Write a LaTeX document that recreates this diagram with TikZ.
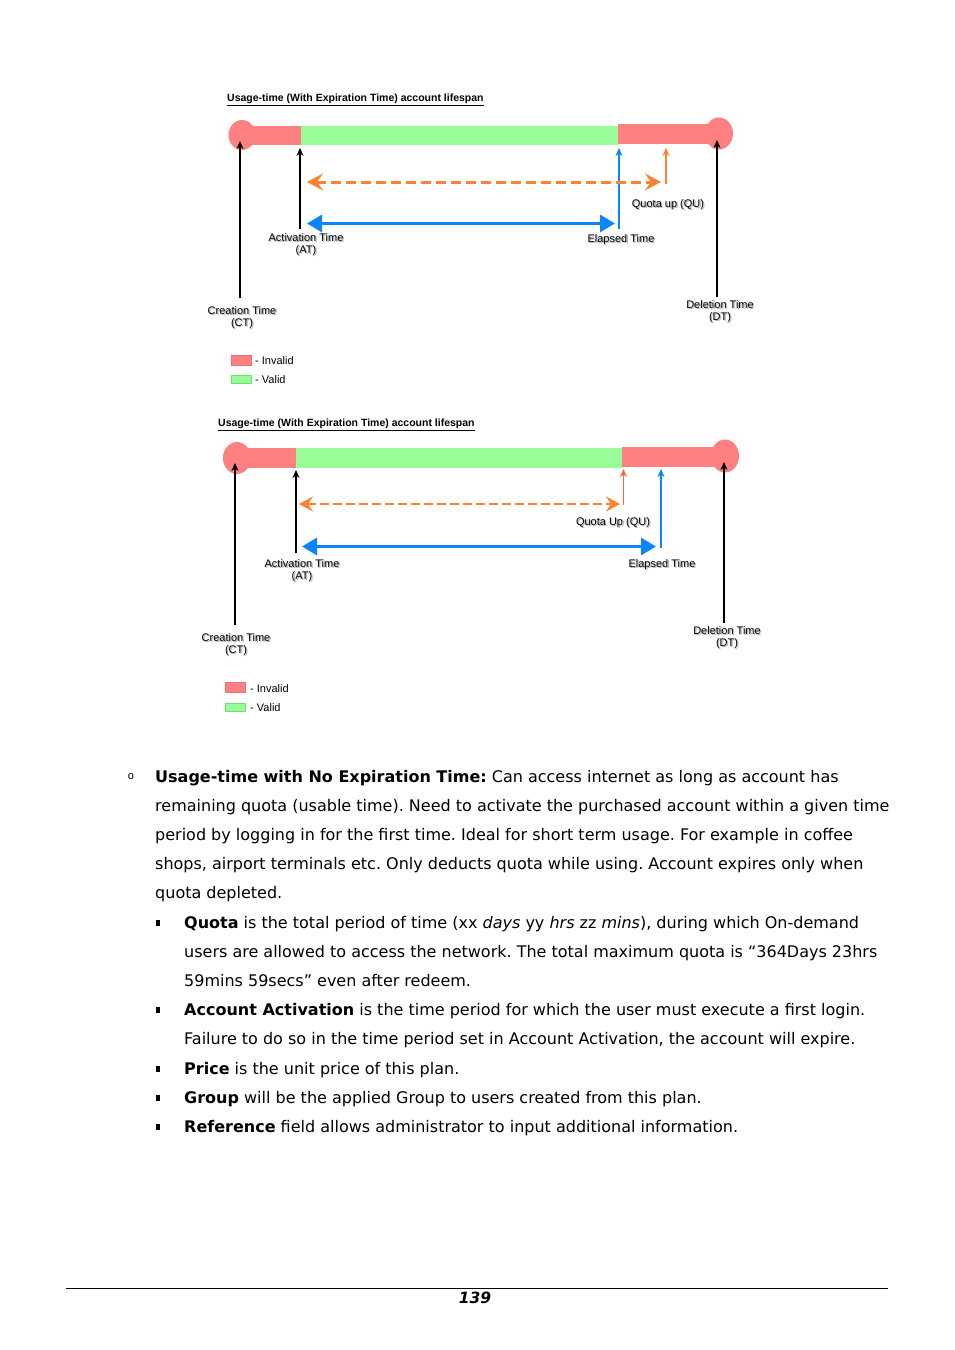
\documentclass[tikz,border=0pt]{standalone}
\usepackage{fontspec}
\setmainfont{DejaVu Sans}
\newfontfamily\arialf{Liberation Sans}
\usetikzlibrary{arrows.meta}
\frenchspacing
\definecolor{invred}{RGB}{255,128,128}
\definecolor{valgreen}{RGB}{152,252,152}
\definecolor{valborder}{RGB}{110,225,110}
\definecolor{qorange}{RGB}{255,130,50}
\definecolor{qorangeB}{RGB}{255,100,50}
\definecolor{eblue}{RGB}{10,132,255}
\newcommand\shd[1]{\rlap{\kern1.3pt\raisebox{-1.3pt}{\textcolor{black!30}{#1}}}#1}
\tikzset{
  lbl/.style={font=\arialf\fontsize{11}{12}\selectfont, align=center, inner sep=0pt},
  ttl/.style={font=\arialf\bfseries\fontsize{10.5}{12}\selectfont, inner sep=0pt, anchor=base west},
  legtxt/.style={font=\arialf\fontsize{11}{12}\selectfont, inner sep=0pt, anchor=west},
  blackarrow/.style={draw=black, line width=1.6pt, -{Stealth[length=8pt,width=7pt]}},
  bluearrow/.style={draw=eblue, line width=1.6pt, -{Stealth[length=8pt,width=7pt]}},
  orarrow/.style={draw=qorange, line width=1.4pt, -{Stealth[length=8pt,width=7pt]}},
  bluedbl/.style={draw=eblue, line width=3pt, {Triangle[length=15pt,width=17pt]}-{Triangle[length=15pt,width=17pt]}},
  ordbl/.style={draw=qorange, line width=3pt, dash pattern=on 10pt off 5pt, {Stealth[length=16pt,width=17pt,inset=6pt]}-{Stealth[length=16pt,width=17pt,inset=6pt]}},
  ordblB/.style={draw=qorange, line width=2.2pt, dash pattern=on 9pt off 4pt, {Stealth[length=14pt,width=15pt,inset=5pt]}-{Stealth[length=14pt,width=15pt,inset=5pt]}},
  body/.style={font=\fontsize{16}{18}\selectfont, anchor=base west, inner sep=0pt},
  sqbullet/.style={fill=black, minimum width=4.5pt, minimum height=5.5pt, inner sep=0pt},
  legred/.style={fill=invred, draw=invred!90!black, line width=0.4pt, minimum width=20pt, minimum height=10pt, inner sep=0pt},
  leggreen/.style={fill=valgreen, draw=valborder, line width=1pt, minimum width=20pt, minimum height=8pt, inner sep=0pt},
}
\begin{document}
\begin{tikzpicture}[x=1pt,y=-1pt]
\useasboundingbox (0,0) rectangle (954,1350);
\fill[white] (0,0) rectangle (954,1350);

% ================= Diagram 1 =================
\node[ttl] (t1) at (227,101.5) {\underline{Usage-time (With Expiration Time) account lifespan}};
% bar
\fill[invred] (242,126) rectangle (302,145);
\fill[valgreen] (301,125.5) rectangle (619,145);
\fill[invred] (618,124) rectangle (719,144);
\fill[invred] (242,135) ellipse [x radius=13.5, y radius=15];
\fill[invred] (719,133.5) ellipse [x radius=14, y radius=16];
% labels
\node[lbl] (ct1) at (242,318) {\shd{Creation Time}\\\shd{(CT)}};
\node[lbl] (at1) at (306,245) {\shd{Activation Time}\\\shd{(AT)}};
\node[lbl] (el1) at (621,240) {\shd{Elapsed Time}};
\node[lbl] (qu1) at (668,205) {\shd{Quota up (QU)}};
\node[lbl] (dt1) at (720,312) {\shd{Deletion Time}\\\shd{(DT)}};
% arrow coordinates
\coordinate (ct1a) at (240,298); \coordinate (ct1b) at (240,141);
\coordinate (at1a) at (300,229); \coordinate (at1b) at (300,148);
\coordinate (el1a) at (619,229); \coordinate (el1b) at (619,148);
\coordinate (qu1a) at (666,184); \coordinate (qu1b) at (666,148);
\coordinate (dt1a) at (717,297); \coordinate (dt1b) at (717,140);
\coordinate (o1l) at (307,182); \coordinate (o1r) at (661,182);
\coordinate (b1l) at (307,223.5); \coordinate (b1r) at (615,223.5);
\draw[blackarrow] (ct1a) -- (ct1b);
\draw[blackarrow] (at1a) -- (at1b);
\draw[bluearrow] (el1a) -- (el1b);
\draw[orarrow] (qu1a) -- (qu1b);
\draw[blackarrow] (dt1a) -- (dt1b);
\draw[ordbl] (o1l) -- (o1r);
\draw[bluedbl] (b1l) -- (b1r);
% legend
\node[legred] (lr1) at (241,360) {};
\node[legtxt] (lrt1) at (255,360.5) {- Invalid};
\node[leggreen] (lg1) at (241,379) {};
\node[legtxt] (lgt1) at (255,379.5) {- Valid};

% ================= Diagram 2 =================
\node[ttl] (t2) at (218,426.5) {\underline{Usage-time (With Expiration Time) account lifespan}};
\fill[invred] (237,448) rectangle (297,468);
\fill[valgreen] (296,447.5) rectangle (623,467.5);
\fill[invred] (622,447) rectangle (725,467);
\fill[invred] (237,458) ellipse [x radius=14, y radius=16];
\fill[invred] (725,456) ellipse [x radius=14, y radius=16.5];
\node[lbl] (ct2) at (236,645) {\shd{Creation Time}\\\shd{(CT)}};
\node[lbl] (at2) at (302,571) {\shd{Activation Time}\\\shd{(AT)}};
\node[lbl] (qu2) at (613,523) {\shd{Quota Up (QU)}};
\node[lbl] (el2) at (662,565) {\shd{Elapsed Time}};
\node[lbl] (dt2) at (727,638) {\shd{Deletion Time}\\\shd{(DT)}};
\coordinate (ct2a) at (235,625); \coordinate (ct2b) at (235,463);
\coordinate (at2a) at (296,553); \coordinate (at2b) at (296,470);
\coordinate (qu2a) at (623.5,505); \coordinate (qu2b) at (623.5,469);
\coordinate (el2a) at (661,548); \coordinate (el2b) at (661,469);
\coordinate (dt2a) at (724,623); \coordinate (dt2b) at (724,462);
\coordinate (o2l) at (299,504); \coordinate (o2r) at (620,504);
\coordinate (b2l) at (302,546.5); \coordinate (b2r) at (656,546.5);
\draw[blackarrow] (ct2a) -- (ct2b);
\draw[blackarrow] (at2a) -- (at2b);
\draw[orarrow, draw=qorangeB] (qu2a) -- (qu2b);
\draw[bluearrow] (el2a) -- (el2b);
\draw[blackarrow] (dt2a) -- (dt2b);
\draw[ordblB] (o2l) -- (o2r);
\draw[bluedbl] (b2l) -- (b2r);
\node[legred] (lr2) at (235.5,687.5) {};
\node[legtxt] (lrt2) at (250,688.5) {- Invalid};
\node[leggreen] (lg2) at (235.5,707) {};
\node[legtxt] (lgt2) at (250,707.5) {- Valid};

% ================= Body text =================
\node[font=\arialf\fontsize{11}{12}\selectfont, inner sep=0pt] (ob) at (131,777) {o};
\node[body] (l1) at (155,782) {\textbf{Usage-time with No Expiration Time:} Can access internet as long as account has};
\node[body] (l2) at (155,811.5) {remaining quota (usable time). Need to activate the purchased account within a given time};
\node[body] (l3) at (155,840.5) {period by logging in for the first time. Ideal for short term usage. For example in coffee};
\node[body] (l4) at (155,869.5) {shops, airport terminals etc. Only deducts quota while using. Account expires only when};
\node[body] (l5) at (155,898.5) {quota depleted.};

\node[sqbullet] (s1) at (158,923) {};
\node[body] (m1) at (184,928.5) {\textbf{Quota} is the total period of time (xx \textit{days} yy \textit{hrs} zz \textit{mins}), during which On-demand};
\node[body] (m2) at (184,957.5) {users are allowed to access the network. The total maximum quota is “364Days 23hrs};
\node[body] (m3) at (184,986.5) {59mins 59secs” even after redeem.};
\node[sqbullet] (s2) at (158,1010) {};
\node[body] (m4) at (184,1015.5) {\textbf{Account Activation} is the time period for which the user must execute a first login.};
\node[body] (m5) at (184,1044.5) {Failure to do so in the time period set in Account Activation, the account will expire.};
\node[sqbullet] (s3) at (158,1069) {};
\node[body] (m6) at (184,1074.5) {\textbf{Price} is the unit price of this plan.};
\node[sqbullet] (s4) at (158,1098) {};
\node[body] (m7) at (184,1103.5) {\textbf{Group} will be the applied Group to users created from this plan.};
\node[sqbullet] (s5) at (158,1127) {};
\node[body] (m8) at (184,1132.5) {\textbf{Reference} field allows administrator to input additional information.};

% ================= Footer =================
\coordinate (fl) at (66,1288); \coordinate (fr) at (888,1288);
\draw[line width=0.9pt] (fl) -- (fr);
\node[font=\bfseries\itshape\fontsize{15.5}{18}\selectfont, inner sep=0pt] (pg) at (475,1298) {139};
\end{tikzpicture}
\end{document}
